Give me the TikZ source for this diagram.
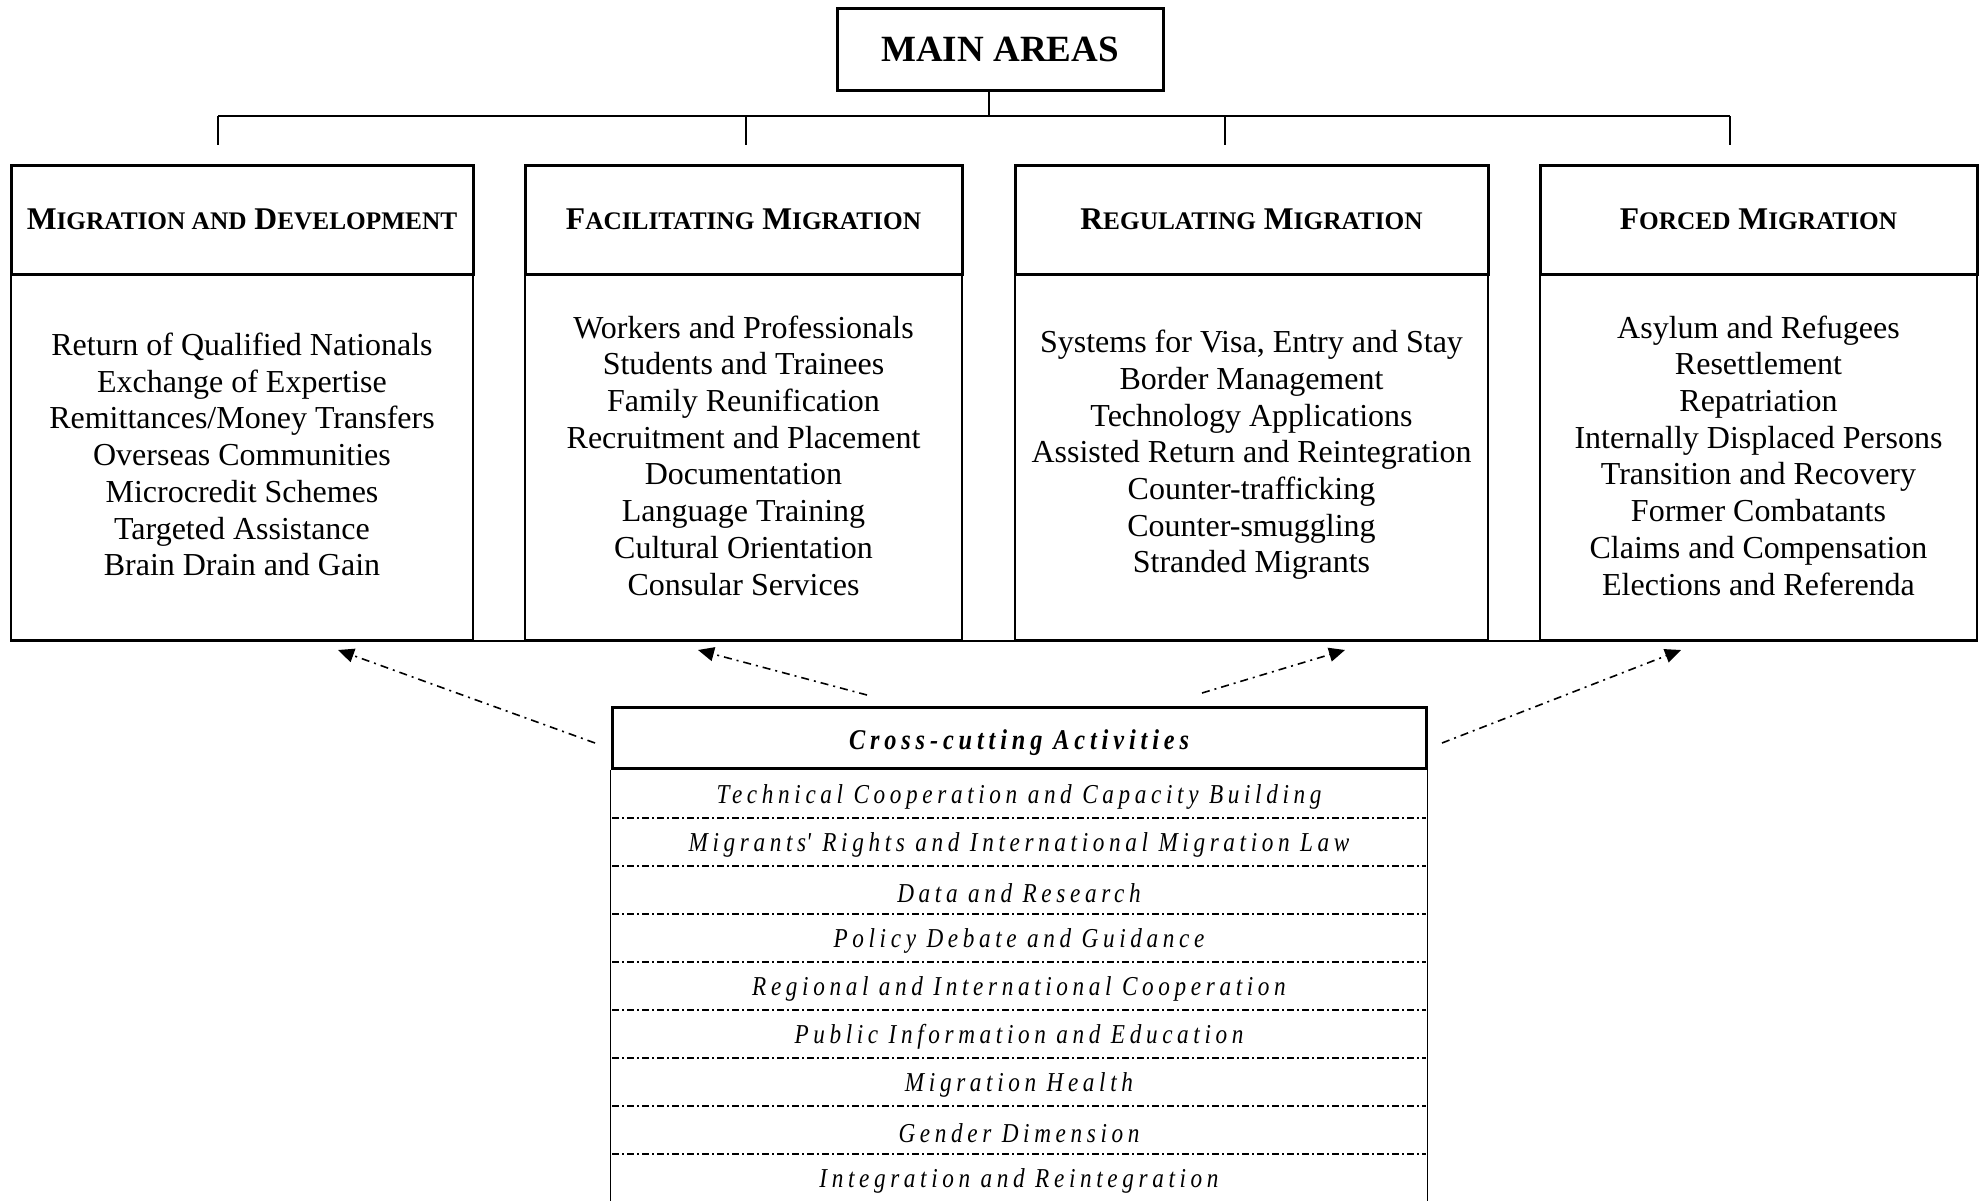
\documentclass[tikz,border=0pt]{standalone}
\usepackage{fontspec}
\setmainfont{Liberation Serif}
\newfontfamily\ccfont[FakeStretch=0.85,LetterSpace=17]{Liberation Serif}
\usetikzlibrary{arrows.meta}

% reduced capitals for the headings
\newcommand\lowcap[1]{{\fontsize{25.3}{30}\selectfont #1}}

\begin{document}
\begin{tikzpicture}[x=1pt,y=-1pt,
  heavybox/.style={draw, line width=3pt, inner sep=0pt},
  lightbox/.style={draw, line width=1.6pt, inner sep=0pt},
  headfont/.style={font=\fontsize{31.6}{36}\selectfont\bfseries},
  bodyfont/.style={align=center, font=\fontsize{32}{36.7}\selectfont},
  rowfont/.style={font=\ccfont\itshape\fontsize{27.3}{31}\selectfont},
  treeline/.style={line width=1.8pt},
  sepline/.style={line width=1.2pt, dash pattern=on 7pt off 3pt on 2pt off 3pt},
  link/.style={line width=1.6pt, dash pattern=on 8pt off 5pt on 2pt off 5pt,
               -{Triangle[length=16pt,width=14pt]}}
]
\useasboundingbox (0,0) rectangle (1979,1200);

% top box and tree
\node[heavybox, minimum width=326pt, minimum height=82pt,
      font=\fontsize{37}{42}\selectfont\bfseries] (main) at (1000,49) {MAIN AREAS};
\coordinate (trunk) at (989,116);
\coordinate (t1) at (218,116);
\coordinate (t2) at (746,116);
\coordinate (t3) at (1225,116);
\coordinate (t4) at (1730,116);
\coordinate (d1) at (218,145);
\coordinate (d2) at (746,145);
\coordinate (d3) at (1225,145);
\coordinate (d4) at (1730,145);
\draw[treeline] (main.south -| trunk) -- (trunk);
\draw[treeline] (t1) -- (t4);
\foreach \i in {1,...,4} \draw[treeline] (t\i) -- (d\i);

% the four areas: headings
\node[heavybox, minimum width=462pt, minimum height=109pt, headfont] (h1) at (242,219.5)
  {M\lowcap{IGRATION AND} D\lowcap{EVELOPMENT}};
\node[heavybox, minimum width=437pt, minimum height=109pt, headfont] (h2) at (743.5,219.5)
  {F\lowcap{ACILITATING} M\lowcap{IGRATION}};
\node[heavybox, minimum width=473pt, minimum height=109pt, headfont] (h3) at (1251.5,219.5)
  {R\lowcap{EGULATING} M\lowcap{IGRATION}};
\node[heavybox, minimum width=437pt, minimum height=109pt, headfont] (h4) at (1758.5,219.5)
  {F\lowcap{ORCED} M\lowcap{IGRATION}};

% the four areas: activities (frames, then their lists)
\node[lightbox, minimum width=462pt, minimum height=366pt] (b1) at (242,457) {};
\node[lightbox, minimum width=437pt, minimum height=366pt] (b2) at (743.5,457) {};
\node[lightbox, minimum width=473pt, minimum height=366pt] (b3) at (1251.5,457) {};
\node[lightbox, minimum width=437pt, minimum height=366pt] (b4) at (1758.5,457) {};

\node[bodyfont] (l1) at ([yshift=2.5pt]b1.center)
  {Return of Qualified Nationals\\Exchange of Expertise\\Remittances/Money Transfers\\
   Overseas Communities\\Microcredit Schemes\\Targeted Assistance\\Brain Drain and Gain};
\node[bodyfont] (l2) at ([yshift=1.5pt]b2.center)
  {Workers and Professionals\\Students and Trainees\\Family Reunification\\
   Recruitment and Placement\\Documentation\\Language Training\\Cultural Orientation\\
   Consular Services};
\node[bodyfont] (l3) at ([yshift=2pt]b3.center)
  {Systems for Visa, Entry and Stay\\Border Management\\Technology Applications\\
   Assisted Return and Reintegration\\Counter-trafficking\\Counter-smuggling\\
   Stranded Migrants};
\node[bodyfont] (l4) at ([yshift=1.5pt]b4.center)
  {Asylum and Refugees\\Resettlement\\Repatriation\\Internally Displaced Persons\\
   Transition and Recovery\\Former Combatants\\Claims and Compensation\\
   Elections and Referenda};

% common base line under the areas
\draw[line width=2pt] (b1.south west) -- (b4.south east);

% cross-cutting activities
\node[heavybox, minimum width=814pt, minimum height=61pt] (cc) at (1019,737.5) {};
\node[font=\ccfont\bfseries\itshape\fontsize{28.6}{32}\selectfont] (cct)
  at ([yshift=-5pt]cc.center) {Cross-cutting Activities};
\coordinate (ccl) at (612,1206);
\coordinate (ccr) at (1426,1206);
\draw[line width=1.6pt] (cc.south west) -- (cc.south west |- ccl);
\draw[line width=1.6pt] (cc.south east) -- (cc.south east |- ccr);

\foreach \txt [count=\k from 0] in {
  Technical Cooperation and Capacity Building,
  Migrants\textquotesingle\ Rights and International Migration Law,
  Data and Research,
  Policy Debate and Guidance,
  Regional and International Cooperation,
  Public Information and Education,
  Migration Health,
  Gender Dimension,
  Integration and Reintegration}
  \node[rowfont] (r\k) at (1019,{797+48*\k}) {\txt};

\foreach \k in {0,...,7}
  \draw[sepline] (612,{818+48*\k}) -- (1426,{818+48*\k});

% links from the cross-cutting box to the areas
\coordinate (s1) at (595,743);
\coordinate (s2) at (867,695);
\coordinate (s3) at (1202,693);
\coordinate (s4) at (1442,743);
\coordinate (e1) at (338,650);
\coordinate (e2) at (698,650);
\coordinate (e3) at (1345,650);
\coordinate (e4) at (1681,650);
\foreach \i in {1,...,4} \draw[link] (s\i) -- (e\i);
\end{tikzpicture}
\end{document}
